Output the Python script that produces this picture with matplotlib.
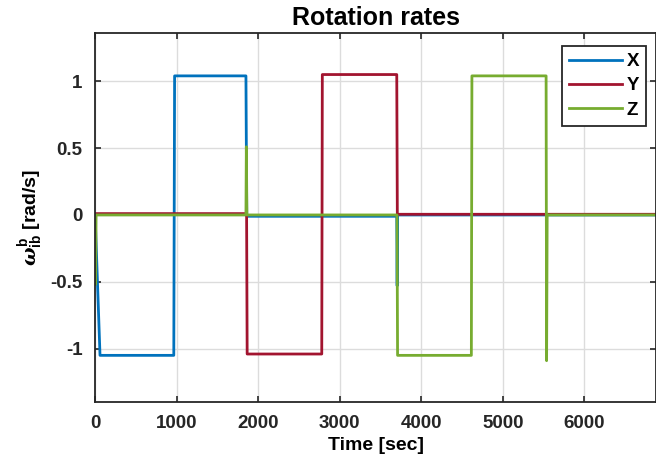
import matplotlib
matplotlib.use("Agg")
import matplotlib.pyplot as plt

plt.rcParams['font.family'] = ['Liberation Sans', 'DejaVu Sans']
plt.rcParams['font.weight'] = 'bold'
plt.rcParams['mathtext.fontset'] = 'custom'
plt.rcParams['mathtext.rm'] = 'Liberation Sans:bold'
plt.rcParams['mathtext.bf'] = 'Liberation Sans:bold'
plt.rcParams['mathtext.it'] = 'DejaVu Serif:italic'

# datos (tiempo en s, velocidad en rad/s)
t_x = [0, 60, 965, 975, 1850, 1860, 3700, 3705, 3710, 6880]
w_x = [0, -1.05, -1.05, 1.04, 1.04, -0.01, -0.01, -0.53, 0, 0]

t_y = [0, 1858, 1865, 2780, 2787, 3700, 3707, 6880]
w_y = [0.01, 0.01, -1.04, -1.04, 1.05, 1.05, 0.005, 0.005]

t_z = [0, 6, 12, 1850, 1855, 1862, 3703, 3710, 4615, 4622, 5532, 5538, 5545, 6880]
w_z = [-0.52, -0.52, 0, 0, 0.51, 0, 0, -1.05, -1.05, 1.04, 1.04, -1.09, 0, 0]

etiquetas = ['X', 'Y', 'Z']
colores = ['#0072BD', '#A2142F', '#77AC30']

fig = plt.figure(figsize=(6.56, 4.66), dpi=100)
ax = fig.add_axes([0.145, 0.137, 0.855, 0.792])

# series
for t, w, lab, c in zip([t_x, t_y, t_z], [w_x, w_y, w_z], etiquetas, colores):
    ax.plot(t, w, color=c, lw=2.0, label=lab)

ax.set_xlim(0, 6880)
ax.set_ylim(-1.4, 1.36)
ax.set_xticks(range(0, 7000, 1000))
ax.set_yticks([-1, -0.5, 0, 0.5, 1])
ax.set_yticklabels(['-1', '-0.5', '0', '0.5', '1'])

# estilo tipo matlab
ax.grid(True, color='#dcdcdc', lw=1.0)
ax.set_axisbelow(True)
for s in ax.spines.values():
    s.set_color('#262626')
    s.set_linewidth(1.3)
ax.tick_params(direction='in', length=4, width=1.2, colors='#262626',
               top=True, right=True, labelsize=13.5, pad=9)
for lbl in ax.get_xticklabels() + ax.get_yticklabels():
    lbl.set_fontweight('bold')

ax.set_title('Rotation rates', fontsize=18, fontweight='bold', pad=6)
ax.set_xlabel('Time [sec]', fontsize=14, fontweight='bold', labelpad=4)
ax.set_ylabel(r'$\omega^{\mathbf{b}}_{\mathbf{ib}}$ [rad/s]', fontsize=14,
              fontweight='bold', labelpad=4)

leg = ax.legend(loc='upper right', prop={'weight': 'bold', 'size': 13.5},
                bbox_to_anchor=(646 / 656, 1 - 46 / 466), bbox_transform=fig.transFigure,
                fancybox=False, framealpha=1, edgecolor='#262626', borderaxespad=0,
                handlelength=2.8, handletextpad=0.25, borderpad=0.38, labelspacing=0.38)
leg.get_frame().set_linewidth(1.3)

fig.savefig('out.png', dpi=100)
